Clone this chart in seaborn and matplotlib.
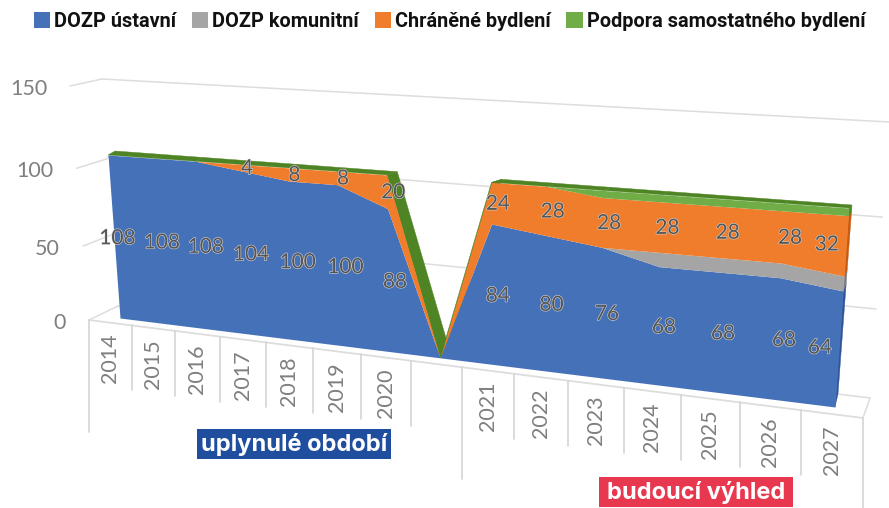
import numpy as np
import matplotlib
matplotlib.use("Agg")
import matplotlib.pyplot as plt
import matplotlib.patheffects as pe
from matplotlib.patches import Rectangle, Patch
from matplotlib.transforms import Transform
import seaborn as sns

categories = ["2014", "2015", "2016", "2017", "2018", "2019", "2020", "",
              "2021", "2022", "2023", "2024", "2025", "2026", "2027"]
dozp_ustavni = [108, 108, 108, 104, 100, 100, 88, 0, 84, 80, 76, 68, 68, 68, 64]
dozp_komunitni = [0, 0, 0, 0, 0, 0, 0, 0, 0, 0, 0, 8, 8, 8, 8]
chranene = [0, 0, 0, 4, 8, 8, 20, 0, 24, 28, 28, 28, 28, 28, 32]
podpora = [0, 0, 0, 0, 0, 0, 0, 0, 0, 0, 4, 4, 4, 4, 4]
series_names = ["DOZP ústavní", "DOZP komunitní", "Chráněné bydlení", "Podpora samostatného bydlení"]
series_colors = ["#4571B9", "#A5A5A5", "#F07D2B", "#70AD47"]
side_colors = ["#2F5597", "#7B7B7B", "#C55A11", "#4E8423"]
y_ticks = [0, 50, 100, 150]

sns.set_theme(style="white")
plt.rcParams["font.family"] = ["Lato", "DejaVu Sans"]


def solve_h(src, dst):
    A, b = [], []
    for (u, v), (x, y) in zip(src, dst):
        A.append([u, v, 1, 0, 0, 0, -u * x, -v * x]); b.append(x)
        A.append([0, 0, 0, u, v, 1, -u * y, -v * y]); b.append(y)
    return np.append(np.linalg.solve(np.array(A, float), np.array(b, float)), 1).reshape(3, 3)


class Homography(Transform):
    input_dims = 2
    output_dims = 2
    is_affine = False

    def __init__(self, src, dst):
        super().__init__()
        self.h = solve_h(src, dst)

    def transform_non_affine(self, values):
        p = np.column_stack([np.asarray(values, float), np.ones(len(values))]) @ self.h.T
        return p[:, :2] / p[:, 2:]


class FrontAxis(Transform):
    """Category position along the front edge of the floor (perspective in u), t runs downward."""
    input_dims = 2
    output_dims = 2
    is_affine = False

    def __init__(self):
        super().__init__()
        anchors = [(-0.5, 89.0), (7.5, 462.0), (14.5, 863.0)]
        M = np.array([[e, 1.0, e * x] for e, x in anchors])
        self.abc = np.linalg.solve(M, np.array([x for _, x in anchors]))

    def transform_non_affine(self, values):
        v = np.asarray(values, float)
        a, b, c = self.abc
        x = (a * v[:, 0] + b) / (1 - c * v[:, 0])
        y = 320 + (x - 89) * 98 / 774 + v[:, 1] * 65
        return np.column_stack([x, y])


fig = plt.figure(figsize=(8.89, 5.08), dpi=100, facecolor="white")
ax = fig.add_axes([0, 0, 1, 1])
ax.set_xlim(0, 889)
ax.set_ylim(508, 0)
ax.set_axis_off()

n = len(categories)
u = np.arange(n, dtype=float)
T_MAX = 108
layers = np.array([dozp_ustavni, dozp_komunitni, chranene, podpora], float)
tops = np.cumsum(layers, axis=0)
total = tops[-1]
last = n - 1

rect = [(0, 0), (last, 0), (last, T_MAX), (0, T_MAX)]
front_h = Homography(rect, [(120, 318), (835, 407), (849, 208), (108, 155)])
back_h = Homography(rect, [(125, 310), (838, 394), (852, 205), (115, 151)])
back_wall = Homography([(-0.5, 0), (14.5, 0), (14.5, 150), (-0.5, 150)],
                       [(118, 306), (870, 398), (889, 122), (102, 79)])
left_wall = Homography([(0, 0), (1, 0), (1, 150), (0, 150)],
                       [(89, 320), (118, 306), (102, 79), (70, 86)])
front_axis = FrontAxis()

grid = "#DDDDDD"
for v in y_ticks:
    sns.lineplot(x=[-0.5, 14.5], y=[v, v], color=grid, lw=1.1, ax=ax, legend=False,
                 errorbar=None, transform=back_wall + ax.transData, zorder=1)
    sns.lineplot(x=[0, 1], y=[v, v], color=grid, lw=1.1, ax=ax, legend=False,
                 errorbar=None, transform=left_wall + ax.transData, zorder=1)
    ax.annotate(str(v), xy=(0, v), xycoords=left_wall + ax.transData, xytext=(-16.5, -2),
                textcoords="offset points", ha="right", va="center",
                fontsize=15.5, color="#7F7F7F", zorder=5)

# floor outline and category separators
ax.plot([-0.5, 14.5], [0, 0], color=grid, lw=1.3, transform=front_axis + ax.transData, zorder=1)
right_front = front_axis.transform([[14.5, 0]])[0]
right_back = back_wall.transform([[14.5, 0]])[0]
ax.plot([right_front[0], right_back[0]], [right_front[1], right_back[1]], color=grid, lw=1.1, zorder=1)
long_edges = {-0.5, 7.5, 14.5}
for e in np.arange(-0.5, 15):
    t_end = 1.72 if e in long_edges else 1.0
    ax.plot([e, e], [0, t_end], color="#D4D4D4", lw=1.2, transform=front_axis + ax.transData, zorder=1)
for i, c in enumerate(categories):
    if c:
        ax.text(i, 0.55, c, rotation=90, ha="center", va="center", fontsize=15.5, color="#7F7F7F",
                transform=front_axis + ax.transData, zorder=5)

# top band and right-hand side of the 3D area
pts = np.column_stack([u, total])
f_px, b_px = front_h.transform(pts), back_h.transform(pts)
for i in range(n - 1):
    quad = np.vstack([f_px[i:i + 2], b_px[i:i + 2][::-1]])
    ax.fill(quad[:, 0], quad[:, 1], color=side_colors[3], lw=0.3, zorder=2)
lower = np.zeros(4)
lower[1:] = tops[:-1, last]
for k in range(4):
    if layers[k, last] > 0:
        p = np.array([[last, lower[k]], [last, tops[k, last]]])
        f, b = front_h.transform(p), back_h.transform(p)
        quad = np.vstack([f, b[::-1]])
        ax.fill(quad[:, 0], quad[:, 1], color=side_colors[k], lw=0.3, zorder=2)

# front face
ax.stackplot(u, layers, colors=series_colors, lw=0, transform=front_h + ax.transData, zorder=3)

# data labels
halo = [pe.withStroke(linewidth=0.8, foreground="#D8D8D8")]
label_u = u + 0.12
label_u[0] = 0.08
label_u[-1] = last - 0.3
for i in range(n):
    if dozp_ustavni[i] > 0:
        ax.text(label_u[i], dozp_ustavni[i] / 2, str(dozp_ustavni[i]), ha="center", va="center",
                fontsize=15, color="#555555", path_effects=halo,
                transform=front_h + ax.transData, zorder=6)
    if chranene[i] > 0:
        mid = tops[1, i] + chranene[i] / 2
        ax.text(label_u[i], mid, str(chranene[i]), ha="center", va="center",
                fontsize=15, color="#555555", path_effects=halo,
                transform=front_h + ax.transData, zorder=6)

# period tags
for (x0, y0, x1, y1), txt, col in [((197, 429, 391, 459), "uplynulé období", "#1F4E9E"),
                                   ((599, 477, 793, 507), "budoucí výhled", "#E8384F")]:
    ax.add_patch(Rectangle((x0, y0), x1 - x0, y1 - y0, color=col, lw=0, zorder=7))
    ax.text((x0 + x1) / 2, (y0 + y1) / 2, txt, ha="center", va="center", color="white",
            fontsize=17, fontweight="bold", family="Inter", zorder=8)

handles = [Patch(color=c, lw=0) for c in series_colors]
leg = ax.legend(handles, series_names, ncol=4, loc="upper left", bbox_to_anchor=(34 / 889, 1 - 12 / 508),
                bbox_transform=ax.transAxes, frameon=False, columnspacing=0.8, handlelength=0.81,
                handleheight=0.81, handletextpad=0.2, borderpad=0, borderaxespad=0,
                prop={"family": "Roboto", "weight": "bold", "size": 14.3})
for t in leg.get_texts():
    t.set_color("#111111")

fig.savefig("out.png", dpi=100, facecolor="white")
